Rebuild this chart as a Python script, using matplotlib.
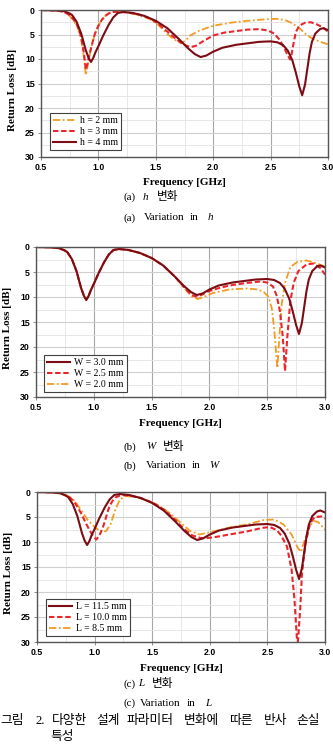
import matplotlib
matplotlib.use('Agg')
import matplotlib.pyplot as plt
from matplotlib.ticker import MultipleLocator

# ---------------- data ----------------
x_ticks = [0.5, 1.0, 1.5, 2.0, 2.5, 3.0]
x_tick_labels = ['0.5', '1.0', '1.5', '2.0', '2.5', '3.0']
y_ticks = [0, 5, 10, 15, 20, 25, 30]
y_tick_labels = ['0', '5', '10', '15', '20', '25', '30']

# (a) variation in h
h4_f = [0.50,0.60,0.66,0.70,0.74,0.77,0.81,0.85,0.89,0.915,0.935,0.955,0.975,1.00,1.04,1.09,1.13,1.17,1.22,1.30,
        1.40,1.50,1.60,1.70,1.78,1.84,1.89,1.94,2.00,2.08,2.20,2.30,2.40,2.50,2.56,2.61,2.65,2.69,2.72,2.75,
        2.775,2.80,2.82,2.84,2.86,2.89,2.93,2.96,3.00]
h4_db = [0.0,0.05,0.12,0.25,0.6,1.0,2.4,4.8,8.2,9.8,10.6,9.8,8.6,7.4,5.3,3.0,1.5,0.6,0.4,0.6,
         1.2,2.2,3.7,5.9,7.8,9.0,9.6,9.3,8.5,7.7,7.1,6.8,6.5,6.4,6.6,7.2,8.3,10.3,12.8,15.6,
         17.4,15.2,12.0,8.8,6.5,4.8,3.9,3.7,4.1]
h3_f = [0.50,0.65,0.70,0.74,0.78,0.82,0.85,0.875,0.89,0.905,0.925,0.95,0.97,1.00,1.03,1.06,1.09,1.13,1.18,1.25,
        1.35,1.45,1.52,1.60,1.68,1.74,1.80,1.85,1.91,2.00,2.10,2.20,2.30,2.40,2.48,2.53,2.58,2.62,2.65,2.67,
        2.685,2.70,2.72,2.75,2.80,2.85,2.90,2.95,3.00]
h3_db = [0.0,0.15,0.4,0.9,1.8,3.3,5.5,9.0,12.2,11.0,8.8,6.5,4.8,3.2,2.0,1.2,0.7,0.4,0.35,0.5,
         0.9,1.7,2.8,4.4,6.0,7.0,7.6,7.3,6.4,5.2,4.6,4.3,4.0,3.9,4.2,4.8,6.1,7.8,9.3,10.1,
         8.8,6.8,4.5,3.2,2.6,2.5,2.9,3.5,4.4]
h2_f = [0.50,0.65,0.70,0.74,0.78,0.82,0.85,0.875,0.89,0.905,0.925,0.95,0.97,1.00,1.03,1.06,1.09,1.13,1.18,1.25,
        1.35,1.45,1.52,1.60,1.66,1.72,1.76,1.80,1.88,2.00,2.15,2.30,2.45,2.55,2.62,2.67,2.72,2.76,2.81,2.86,
        2.92,3.00]
h2_db = [0.0,0.15,0.4,1.0,2.0,3.6,6.0,9.8,13.3,11.5,9.0,6.6,4.9,3.2,2.0,1.2,0.7,0.35,0.3,0.5,
         1.0,1.9,3.0,4.9,6.0,6.8,6.2,5.2,4.2,3.2,2.6,2.2,1.9,1.8,2.0,2.5,3.2,3.9,5.0,5.8,
         6.4,7.0]

# (b) variation in W
w30_f = list(h4_f)
w30_db = list(h4_db)
w25_f = [0.50,0.60,0.66,0.70,0.74,0.77,0.81,0.85,0.89,0.915,0.935,0.955,0.975,1.00,1.04,1.09,1.13,1.17,1.22,1.30,
         1.40,1.50,1.60,1.70,1.78,1.84,1.88,1.93,2.00,2.10,2.20,2.32,2.44,2.50,2.55,2.58,2.61,2.635,2.654,2.674,
         2.70,2.73,2.77,2.84,2.90,2.96,3.00]
w25_db = [0.0,0.05,0.12,0.25,0.6,1.0,2.4,4.8,8.2,9.8,10.5,9.8,8.6,7.4,5.3,3.0,1.5,0.6,0.4,0.6,
          1.2,2.2,3.7,5.9,8.0,9.5,9.9,9.6,8.8,8.1,7.6,7.2,6.9,7.1,7.9,9.6,12.8,18.0,24.8,18.0,
          10.8,7.1,4.8,3.5,3.3,4.2,5.5]
w20_f = [0.50,0.60,0.66,0.70,0.74,0.77,0.81,0.85,0.89,0.915,0.935,0.955,0.975,1.00,1.04,1.09,1.13,1.17,1.22,1.30,
         1.40,1.50,1.60,1.70,1.78,1.85,1.90,1.95,2.03,2.17,2.32,2.42,2.47,2.51,2.54,2.56,2.588,2.605,2.625,2.654,
         2.70,2.76,2.84,2.93,3.00]
w20_db = [0.0,0.05,0.12,0.25,0.6,1.0,2.4,4.8,8.2,9.8,10.4,9.8,8.6,7.4,5.3,3.0,1.5,0.6,0.4,0.6,
          1.2,2.2,3.7,5.9,8.2,9.9,10.4,10.0,9.2,8.5,8.3,8.5,9.0,9.9,12.3,16.3,24.2,18.0,11.5,7.2,
          4.0,3.0,2.7,3.3,3.9]

# (c) variation in L
l115_f = list(h4_f)
l115_db = list(h4_db)
l100_f = [0.50,0.65,0.72,0.77,0.80,0.83,0.86,0.89,0.93,0.96,0.99,1.016,1.045,1.07,1.09,1.11,1.13,1.155,1.18,1.23,
          1.30,1.40,1.50,1.60,1.70,1.78,1.85,1.92,1.98,2.05,2.17,2.32,2.45,2.52,2.58,2.62,2.67,2.71,2.735,2.755,
          2.765,2.785,2.80,2.83,2.87,2.91,2.97,3.00]
l100_db = [0.0,0.1,0.4,0.9,1.4,2.2,3.3,4.6,6.5,7.8,8.9,9.5,8.5,7.2,5.8,4.2,2.8,1.8,1.1,0.6,
           0.7,1.2,2.1,3.5,5.6,7.5,8.7,9.2,9.2,9.0,8.5,7.9,7.2,7.0,7.6,8.7,10.9,15.5,21.5,29.0,
           30.0,23.3,16.3,10.3,6.3,5.0,4.9,5.3]
l85_f = [0.50,0.65,0.72,0.77,0.80,0.84,0.89,0.94,1.00,1.06,1.10,1.14,1.18,1.22,1.27,1.35,1.45,1.55,1.65,1.75,
         1.83,1.91,1.97,2.03,2.17,2.32,2.47,2.56,2.64,2.71,2.76,2.79,2.82,2.86,2.90,2.94,3.00]
l85_db = [0.0,0.1,0.3,0.8,1.2,2.2,3.9,5.6,7.0,8.1,7.8,6.4,3.5,1.5,0.8,1.0,1.6,2.6,4.2,6.2,
          7.8,8.5,8.2,7.9,7.1,6.5,5.6,5.5,6.5,8.5,11.0,12.0,9.9,7.2,5.8,6.0,7.5]

labels_a = ['h = 2 mm', 'h = 3 mm', 'h = 4 mm']
labels_b = ['W = 3.0 mm', 'W = 2.5 mm', 'W = 2.0 mm']
labels_c = ['L = 11.5 mm', 'L = 10.0 mm', 'L = 8.5 mm']

# ---------------- styling ----------------
DARK = '#7c0d14'
RED = '#e8262c'
ORANGE = '#f39b22'
SOLID = dict(color=DARK, lw=1.5, ls='-', solid_joinstyle='round')
DASH = dict(color=RED, lw=1.5, ls=(0, (2.6, 1.3)))
DASHDOT = dict(color=ORANGE, lw=1.3, ls=(0, (4.0, 1.4, 1.0, 1.4)))

SERIF = 'Liberation Serif'
SANS = 'Liberation Sans'
KR = ['Liberation Serif', 'Noto Sans CJK KR']

W, H = 333, 746
fig = plt.figure(figsize=(W / 100, H / 100), dpi=100)


def add_ax(l, t, r, b):
    return fig.add_axes([l / W, 1 - b / H, (r - l) / W, (b - t) / H])


def style(ax):
    ax.set_xlim(0.5, 3.0)
    ax.set_ylim(30, 0)
    ax.set_xticks(x_ticks, x_tick_labels, fontsize=6.3, fontweight='bold', family=SANS)
    ax.set_yticks(y_ticks, y_tick_labels, fontsize=6.3, fontweight='bold', family=SANS)
    ax.xaxis.set_minor_locator(MultipleLocator(0.25))
    ax.yaxis.set_minor_locator(MultipleLocator(2.5))
    ax.grid(which='major', axis='x', color='#a6a6a6', lw=0.8)
    ax.grid(which='major', axis='y', color='#cfcfcf', lw=0.8)
    ax.grid(which='minor', color='#e3e3e3', lw=0.6)
    ax.set_axisbelow(True)
    for s in ax.spines.values():
        s.set_color('#555555')
        s.set_linewidth(1.0)
    ax.tick_params(which='major', length=2, width=0.6, color='#777777', pad=2.5)
    ax.tick_params(which='minor', length=0)
    ax.set_xlabel('Frequency [GHz]', family=SERIF, fontweight='bold', fontsize=8, va='center')
    ax.set_ylabel('Return Loss [dB]', family=SERIF, fontweight='bold', fontsize=8, va='center')
    ax.xaxis.set_label_coords(0.5, -0.175)
    ax.yaxis.set_label_coords(-0.1, 0.46)


def add_legend(ax, handles, labels, anchor):
    leg = ax.legend(handles, labels, loc='lower left', bbox_to_anchor=anchor, borderaxespad=0,
                    frameon=True, fancybox=False, edgecolor='#404040', framealpha=1,
                    prop={'family': SERIF, 'size': 7}, handlelength=2.4, handletextpad=0.4,
                    labelspacing=0.2, borderpad=0.3)
    leg.get_frame().set_linewidth(0.8)


# (a)
ax1 = add_ax(41, 10, 328, 157)
a2, = ax1.plot(h2_f, h2_db, **DASHDOT)
a3, = ax1.plot(h3_f, h3_db, **DASH)
a4, = ax1.plot(h4_f, h4_db, **SOLID)
style(ax1)
add_legend(ax1, [a2, a3, a4], labels_a, (0.031, 0.048))

# (b)
ax2 = add_ax(36, 247, 325, 397)
b20, = ax2.plot(w20_f, w20_db, **DASHDOT)
b25, = ax2.plot(w25_f, w25_db, **DASH)
b30, = ax2.plot(w30_f, w30_db, **SOLID)
style(ax2)
add_legend(ax2, [b30, b25, b20], labels_b, (0.028, 0.033))

# (c)
ax3 = add_ax(37, 492, 325, 642)
c85, = ax3.plot(l85_f, l85_db, **DASHDOT)
c100, = ax3.plot(l100_f, l100_db, **DASH)
c115, = ax3.plot(l115_f, l115_db, **SOLID)
style(ax3)
add_legend(ax3, [c115, c100, c85], labels_c, (0.031, 0.04))


# ---------------- captions ----------------
def txt(x, y, s, size=8.0, italic=False, va='center'):
    fig.text(x / W, 1 - y / H, s, ha='left', va=va, fontsize=size,
             family=KR, style='italic' if italic else 'normal')


txt(124, 197, '(a)')
txt(143, 197, 'h', italic=True)
txt(157, 197, '변화', size=8.4)
txt(124, 218, '(a)')
txt(144, 218, 'Variation')
txt(190, 218, 'in')
txt(208, 218, 'h', italic=True)

txt(124, 447, '(b)')
txt(146, 447, 'W', italic=True)
txt(163, 447, '변화', size=8.4)
txt(124, 466, '(b)')
txt(146, 466, 'Variation')
txt(192, 466, 'in')
txt(209, 466, 'W', italic=True)

txt(124, 684, '(c)')
txt(138, 684, 'L', italic=True)
txt(152, 684, '변화', size=8.4)
txt(124, 703, '(c)')
txt(140, 703, 'Variation')
txt(187, 703, 'in')
txt(205, 703, 'L', italic=True)

cap_words = ['그림', '2.', '다양한', '설계', '파라미터', '변화에', '따른', '반사', '손실']
cap_x = [0, 36, 52, 96, 127, 184, 229, 264, 296]
for wd, xx in zip(cap_words, cap_x):
    txt(xx, 721, wd, size=9.2)
txt(50, 731, '특성', size=9.2, va='top')

fig.savefig('out.png', dpi=100)
